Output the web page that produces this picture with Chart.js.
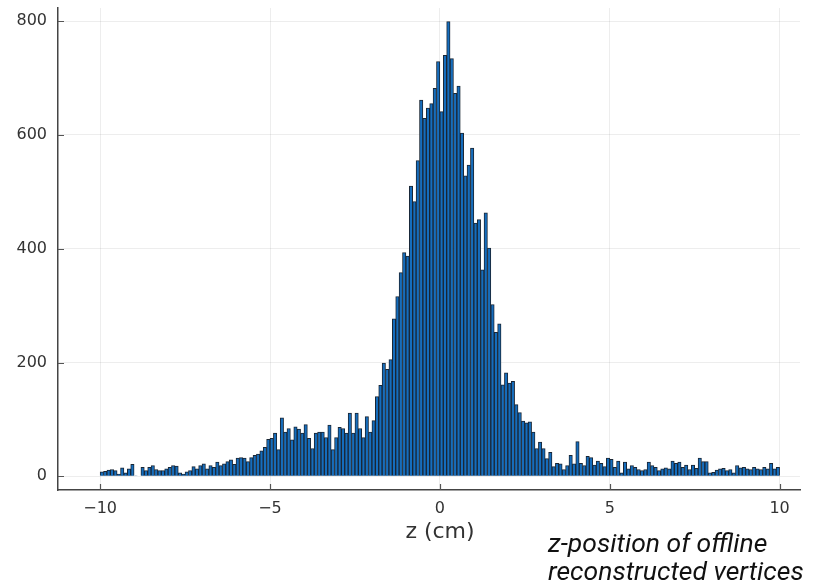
<!DOCTYPE html>
<html>
<head>
<meta charset="utf-8">
<script src="https://cdn.jsdelivr.net/npm/chart.js@4"></script>
<style>
  body { margin: 0; background: #fff; }
  #wrap { position: relative; width: 814px; height: 583px; overflow: hidden; }
  #tituloX {
    position: absolute; left: 440px; top: 518px; transform: translateX(-50%);
    font-family: "DejaVu Sans", sans-serif; font-size: 22px; line-height: 26px;
    color: #333; white-space: nowrap;
  }
  #nota {
    position: absolute; left: 548px; top: 529px;
    font-family: Roboto, "Noto Sans", sans-serif; font-style: italic;
    font-size: 26.5px; line-height: 27.5px; color: #111; white-space: nowrap;
  }
</style>
</head>
<body>
<div id="wrap">
  <canvas id="grafico" width="814" height="583"></canvas>
  <div id="tituloX">z (cm)</div>
  <div id="nota">z-position of offline<br>reconstructed vertices</div>
</div>
<script>
// histograma: 200 bins de 0.1 cm entre -10 e 10
const binInicio = -10;
const binLargura = 0.1;
const contagens = [
    8, 9, 11, 12, 10, 4, 15, 6, 13, 21,
    1, 0, 16, 10, 16, 19, 12, 10, 10, 13,
    16, 19, 18, 6, 4, 8, 10, 17, 13, 19,
    22, 13, 19, 16, 25, 19, 22, 26, 29, 21,
    32, 33, 32, 26, 33, 37, 39, 45, 51, 65,
    67, 76, 47, 103, 78, 84, 64, 87, 83, 76,
    91, 67, 49, 76, 78, 78, 68, 90, 47, 68,
    86, 84, 76, 111, 76, 111, 84, 68, 105, 78,
    98, 140, 160, 199, 188, 205, 277, 316, 358, 393,
    387, 510, 483, 555, 661, 629, 647, 655, 682, 729,
    641, 740, 799, 734, 673, 686, 603, 528, 547, 577,
    445, 451, 363, 463, 401, 302, 253, 268, 161, 182,
    164, 167, 126, 112, 97, 94, 96, 78, 49, 60,
    49, 31, 42, 17, 23, 22, 12, 19, 37, 22,
    61, 23, 19, 35, 33, 20, 27, 23, 17, 32,
    30, 16, 27, 6, 25, 13, 19, 16, 12, 10,
    12, 25, 19, 16, 10, 13, 15, 13, 27, 23,
    25, 16, 20, 12, 20, 14, 32, 26, 26, 6,
    7, 11, 13, 14, 10, 12, 6, 19, 15, 16,
    13, 12, 16, 13, 12, 16, 13, 23, 13, 16
];
const ticksX = [-10, -5, 0, 5, 10];
const ticksY = [0, 200, 400, 600, 800];

const pontos = contagens.map((c, i) => ({ x: binInicio + binLargura * (i + 0.5), y: c }));

function rotulo(v) {
    return String(v).replace('-', '\u2212');
}

// marquinhas dos ticks para dentro do gráfico (estilo Plots.jl)
const marcasTicks = {
    id: 'marcasTicks',
    afterDraw(chart) {
        const ctx = chart.ctx;
        const area = chart.chartArea;
        const sx = chart.scales.x, sy = chart.scales.y;
        ctx.save();
        ctx.strokeStyle = '#555';
        ctx.lineWidth = 1.2;
        ctx.beginPath();
        ticksX.forEach(v => {
            const px = Math.round(sx.getPixelForValue(v)) + 0.5;
            ctx.moveTo(px, area.bottom);
            ctx.lineTo(px, area.bottom - 6);
        });
        ticksY.forEach(v => {
            const py = Math.round(sy.getPixelForValue(v)) + 0.5;
            ctx.moveTo(area.left, py);
            ctx.lineTo(area.left + 6, py);
        });
        ctx.stroke();
        ctx.restore();
    }
};

const fonteTicks = { family: '"DejaVu Sans", sans-serif', size: 16 };

function semPadding(s) {
    s.paddingTop = 0; s.paddingBottom = 0; s.paddingLeft = 0; s.paddingRight = 0;
}

new Chart(document.getElementById('grafico').getContext('2d'), {
    type: 'bar',
    data: {
        datasets: [{
            data: pontos,
            backgroundColor: '#156dbd',
            borderColor: '#1a2634',
            borderWidth: 1,
            barPercentage: 1,
            categoryPercentage: 1,
            grouped: false
        }]
    },
    options: {
        responsive: false,
        animation: false,
        layout: { padding: { top: 8, right: 14, left: 0, bottom: 0 } },
        plugins: { legend: { display: false }, tooltip: { enabled: false } },
        scales: {
            x: {
                type: 'linear',
                offset: false,
                min: -11.24,
                max: 10.6,
                afterBuildTicks: s => { s.ticks = ticksX.map(v => ({ value: v })); },
                afterFit: s => { s.height = 93; semPadding(s); },
                ticks: { callback: rotulo, font: fonteTicks, color: '#333', padding: 9, maxRotation: 0 },
                grid: { color: 'rgba(0,0,0,0.07)', drawTicks: false, offset: false },
                border: { color: '#444', width: 1.5 }
            },
            y: {
                min: -24,
                max: 823,
                afterBuildTicks: s => { s.ticks = ticksY.map(v => ({ value: v })); },
                afterFit: s => { s.width = 58; semPadding(s); },
                ticks: { callback: rotulo, font: fonteTicks, color: '#333', padding: 11 },
                grid: { color: 'rgba(0,0,0,0.07)', drawTicks: false, offset: false },
                border: { color: '#444', width: 1.5 }
            }
        }
    },
    plugins: [marcasTicks]
});
</script>
</body>
</html>
